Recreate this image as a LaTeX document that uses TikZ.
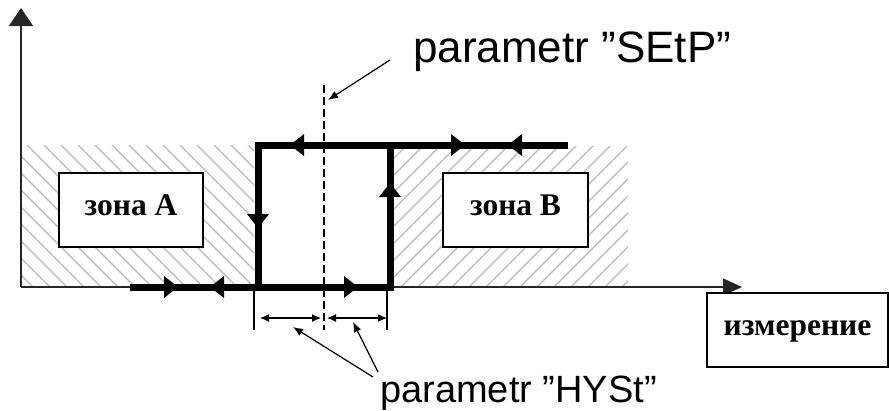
\documentclass[tikz,border=0pt]{standalone}
\usepackage{fontspec}
\setmainfont{Liberation Serif}
\newfontfamily\arialf{Liberation Sans}
\usetikzlibrary{arrows.meta}
\begin{document}
\begin{tikzpicture}[x=1pt,y=-1pt,
  axis/.style={line width=1.5pt,draw=black!85},
  hatchline/.style={line width=1.2pt,draw=black!28},
  loopline/.style={line width=7pt,line join=miter},
  zonebox/.style={draw,line width=1.3pt,fill=white,inner sep=0pt,minimum height=74pt,
    text height=20pt,text depth=10pt,font=\fontsize{31.5}{36}\selectfont\bfseries},
  leader/.style={line width=1.2pt},
  dashline/.style={line width=1.2pt,dash pattern=on 8pt off 4pt},
  tri/.pic={\fill (0,0) -- (-14,11) -- (-14,-11) -- cycle;},
  lbl/.style={anchor=base west,inner sep=0pt}
]
\useasboundingbox (0,0) rectangle (889,410);
% hatched zones
\begin{scope}
  \clip (22,145) rectangle (254,287);
  \foreach \i in {-160,-143,...,270} \draw[hatchline] (\i,145) -- ++(150,150);
\end{scope}
\begin{scope}
  \clip (393,146) rectangle (628,287);
  \foreach \i in {390,407,...,800} \draw[hatchline] (\i,145) -- ++(-150,150);
\end{scope}
% axes
\coordinate (O) at (21,287);
\coordinate (Ytip) at (21,8);
\coordinate (Xtip) at (742,287);
\draw[axis,-{Triangle[length=18pt,width=24pt]}] (O) -- (Ytip);
\draw[axis,-{Triangle[length=19pt,width=17pt]}] (O) -- (Xtip);
% zone boxes
\node[zonebox,minimum width=144pt] (za) at (131,210) {зона А};
\node[zonebox,minimum width=145pt] (zb) at (515.5,210) {зона В};
\node[zonebox,minimum width=181pt] (meas) at (797.5,330) {измерение};
% hysteresis loop
\coordinate (TR) at (568,145);
\coordinate (TL) at (258,145);
\coordinate (LB) at (258,287);
\coordinate (B0) at (130,287);
\coordinate (BR) at (390,287);
\coordinate (RT) at (390,145);
\draw[loopline] (TR) -- (TL) -- (LB);
\draw[loopline] (B0) -- (BR) -- (RT);
\pic at (178,287) {tri};
\pic[rotate=180] at (210,287) {tri};
\pic at (358,287) {tri};
\pic[rotate=-90] at (258,228) {tri};
\pic[rotate=90] at (390,183) {tri};
\pic[rotate=180] at (290,145) {tri};
\pic at (465,145) {tri};
\pic[rotate=180] at (508,145) {tri};
% setpoint dashed line
\coordinate (D1) at (324,85);
\coordinate (D2) at (324,330);
\draw[dashline] (D1) -- (D2);
% hysteresis dimension
\coordinate (T1a) at (254,287); \coordinate (T1b) at (254,330);
\coordinate (T2a) at (387,287); \coordinate (T2b) at (387,330);
\draw[leader] (T1a) -- (T1b);
\draw[leader] (T2a) -- (T2b);
\coordinate (H1) at (260,318); \coordinate (H2) at (321,318);
\coordinate (H3) at (327,318); \coordinate (H4) at (387,318);
\draw[leader,{Latex[length=9pt,width=8pt]}-{Latex[length=9pt,width=8pt]}] (H1) -- (H2);
\draw[leader,{Latex[length=9pt,width=8pt]}-{Latex[length=9pt,width=8pt]}] (H3) -- (H4);
% labels
\node[lbl] (setp) at (413,62) {\arialf\fontsize{44}{50}\selectfont parametr ”SEtP”};
\node[lbl] (hyst) at (380,402) {\arialf\fontsize{38}{44}\selectfont parametr ”HYSt”};
\coordinate (s1) at (390,60); \coordinate (s2) at (328,100);
\draw[leader,-{Latex[length=10pt,width=8pt]}] (s1) -- (s2);
\coordinate (h1) at (373,377); \coordinate (h2) at (293,327);
\coordinate (h3) at (378,372); \coordinate (h4) at (353,322);
\draw[leader,-{Latex[length=10pt,width=8pt]}] (h1) -- (h2);
\draw[leader,-{Latex[length=10pt,width=8pt]}] (h3) -- (h4);
\end{tikzpicture}
\end{document}
